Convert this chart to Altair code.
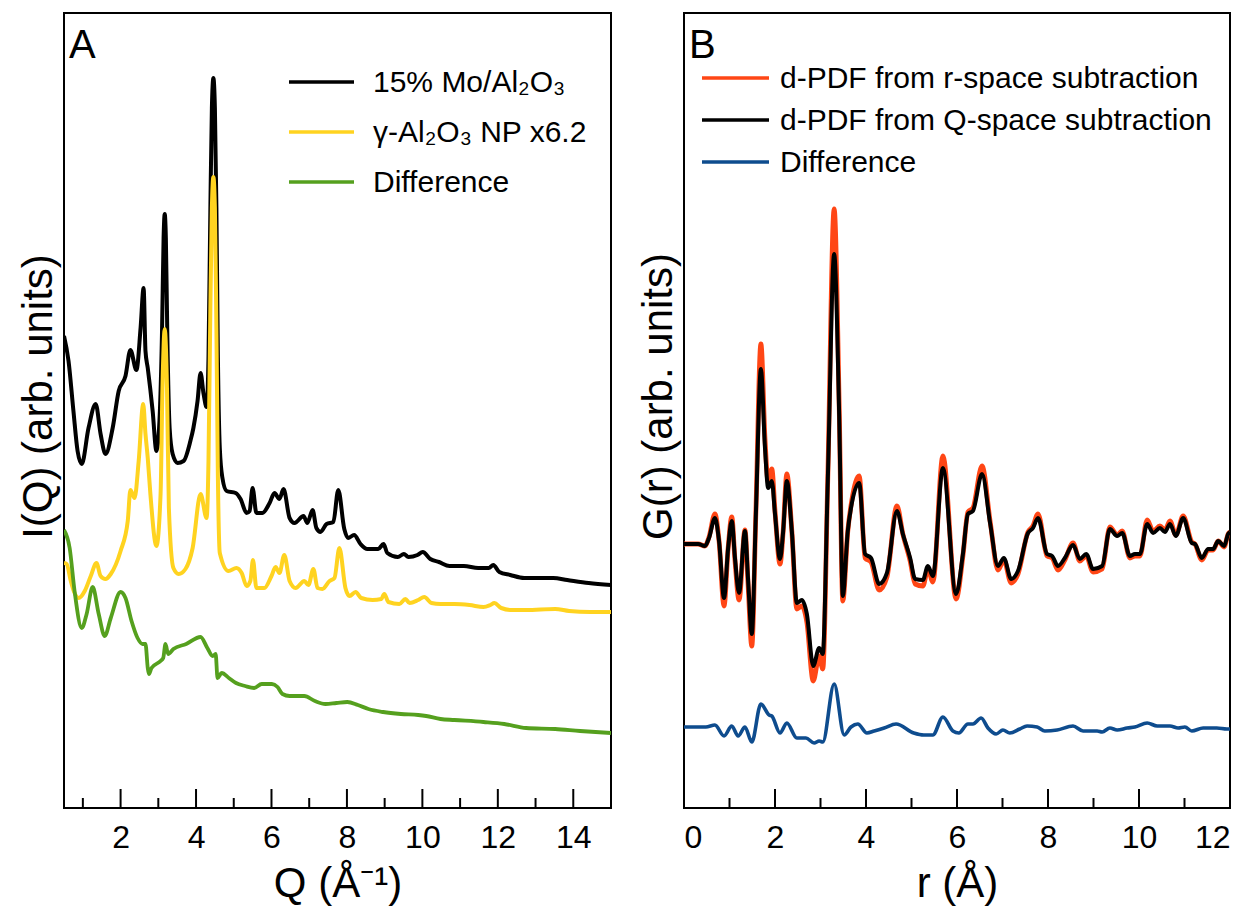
import altair as alt
import pandas as pd

FONT = "Liberation Sans"

# ---------------- Panel A data (Q in 1/Å, intensity in arb. units, offsets as plotted) ----------------
q_black = [0.50, 0.62, 0.75, 0.86, 0.97, 1.15, 1.34, 1.47, 1.60, 1.79, 1.95, 2.13, 2.26, 2.42, 2.53,
           2.61, 2.66, 2.72, 2.85, 2.95, 3.03, 3.10, 3.14, 3.17, 3.20, 3.24, 3.30, 3.38, 3.51, 3.67,
           3.85, 3.93, 4.04, 4.12, 4.20, 4.28, 4.33, 4.38, 4.42, 4.46, 4.50, 4.54, 4.58, 4.63, 4.70,
           4.81, 5.05, 5.18, 5.34, 5.42, 5.50, 5.60, 5.76, 5.95, 6.08, 6.21, 6.32, 6.48, 6.61, 6.85,
           6.95, 7.09, 7.19, 7.30, 7.46, 7.64, 7.77, 7.93, 8.03, 8.19, 8.36, 8.54, 8.83, 8.97, 9.07,
           9.35, 9.51, 9.63, 9.87, 10.01, 10.21, 10.44, 10.72, 11.10, 11.48, 11.76, 11.88, 12.04,
           12.33, 12.70, 13.09, 13.47, 13.84, 14.41, 15.00]
i_black = [472, 447, 397, 357, 344, 380, 404, 374, 354, 380, 417, 432, 458, 438, 480,
           520, 457, 440, 397, 357, 387, 480, 570, 594, 570, 470, 380, 354, 345, 347,
           367, 380, 407, 435, 414, 401, 450, 600, 700, 730, 700, 600, 450, 360, 330,
           317, 315, 309, 295, 297, 320, 295, 295, 305, 315, 309, 319, 290, 285, 292,
           285, 298, 280, 276, 284, 286, 318, 279, 270, 273, 264, 259, 259, 264, 255,
           251, 254, 251, 253, 256, 249, 246, 242, 242, 240, 240, 243, 236,
           233, 230, 230, 230, 228, 225, 223]

q_yellow = [0.50, 0.57, 0.68, 0.78, 0.89, 1.05, 1.21, 1.36, 1.47, 1.60, 1.74, 2.00, 2.19, 2.26, 2.37,
            2.48, 2.60, 2.66, 2.72, 2.79, 2.95, 3.06, 3.11, 3.17, 3.23, 3.28, 3.40, 3.54, 3.72, 3.91,
            4.12, 4.28, 4.33, 4.38, 4.42, 4.46, 4.50, 4.54, 4.58, 4.63, 4.86, 5.07, 5.21, 5.34, 5.44,
            5.51, 5.60, 5.81, 6.00, 6.11, 6.21, 6.34, 6.48, 6.64, 6.87, 6.98, 7.11, 7.22, 7.35, 7.54,
            7.67, 7.80, 7.96, 8.07, 8.23, 8.38, 8.68, 8.91, 8.99, 9.10, 9.39, 9.55, 9.66, 9.89, 10.05,
            10.24, 10.48, 10.85, 11.25, 11.62, 11.80, 11.91, 12.09, 12.38, 12.75, 13.52, 13.89, 14.45,
            15.00]
i_yellow = [245, 244, 227, 215, 210, 217, 232, 245, 232, 229, 234, 257, 287, 318, 310,
            347, 404, 374, 350, 314, 262, 314, 420, 479, 420, 300, 240, 234, 239, 260,
            314, 290, 347, 500, 600, 631, 600, 480, 330, 255, 237, 240, 235, 222, 227,
            248, 220, 220, 232, 241, 235, 253, 227, 220, 227, 223, 239, 220, 219, 227,
            230, 260, 220, 212, 216, 210, 208, 209, 214, 206, 204, 209, 205, 208, 211,
            205, 204, 204, 203, 201, 203, 205, 200, 198, 198, 199, 197, 196,
            196]

q_green = [0.50, 0.65, 0.78, 0.97, 1.10, 1.26, 1.42, 1.58, 1.74, 2.00, 2.13, 2.29, 2.45, 2.58, 2.66,
           2.72, 2.75, 2.82, 3.06, 3.13, 3.19, 3.26, 3.40, 3.74, 4.12, 4.30, 4.44, 4.52, 4.57, 4.68,
           4.87, 5.06, 5.30, 5.54, 5.74, 6.01, 6.16, 6.29, 6.48, 6.87, 7.15, 7.43, 7.72, 8.01, 8.29,
           8.57, 8.96, 9.43, 9.89, 10.10, 10.48, 10.85, 11.62, 12.17, 12.75, 13.52, 14.18, 15.00]
i_green = [278, 260, 217, 180, 194, 221, 194, 172, 190, 216, 210, 187, 170, 164, 164,
           140, 134, 140, 147, 150, 164, 154, 159, 164, 171, 160, 152, 154, 130, 135,
           130, 125, 122, 120, 124, 124, 121, 114, 112, 112, 107, 104, 105, 106, 103,
           99, 96, 94, 93, 92, 89, 88, 86, 84, 80, 79, 77, 75]

# ---------------- Panel B data (r in Å, G(r) in arb. units) ----------------
r_pdf = [0.00, 0.31, 0.46, 0.55, 0.68, 0.77, 0.88, 0.97, 1.05, 1.12, 1.21, 1.34, 1.41, 1.49, 1.58,
         1.69, 1.78, 1.85, 1.93, 2.00, 2.11, 2.18, 2.26, 2.37, 2.48, 2.59, 2.70, 2.84, 2.97, 3.05,
         3.16, 3.30, 3.41, 3.49, 3.60, 3.69, 3.85, 3.98, 4.11, 4.29, 4.46, 4.68, 4.81, 4.97, 5.08,
         5.25, 5.36, 5.47, 5.69, 5.98, 6.13, 6.24, 6.35, 6.55, 6.73, 6.90, 7.03, 7.19, 7.34, 7.56,
         7.67, 7.78, 7.98, 8.09, 8.22, 8.37, 8.55, 8.70, 8.84, 8.99, 9.19, 9.36, 9.52, 9.63, 9.80,
         9.91, 10.02, 10.18, 10.31, 10.46, 10.57, 10.68, 10.81, 10.97, 11.16, 11.23, 11.38, 11.52,
         11.63, 11.74, 11.87, 11.96, 12.00]
g_qspace = [0, 0, -2, 6, 26, 3, -54, -4, 23, -14, -49, 13, -37, -90, 30,
            175, 96, 56, 63, 30, -15, 13, 63, 13, -59, -56, -70, -122, -104, -110,
            63, 290, 130, -52, 13, 41, 61, -10, -14, -40, -29, 33, 10, -14, -35,
            -36, -22, -32, 76, -50, -10, 30, 33, 70, 20, -22, -14, -35, -27, 11,
            16, 26, -10, -12, -22, -14, -1, -15, -10, -25, -22, 15, 8, 11, -12,
            -10, -10, 20, 11, 16, 12, 20, 8, 26, 1, 0, -14, -5,
            -5, 3, -2, 10, 12]
g_rspace = [0, 0, -2, 7, 30, 3, -62, -4, 27, -16, -56, 14, -42, -102, 32,
            200, 105, 62, 75, 33, -20, 13, 70, 13, -65, -62, -78, -137, -112, -125,
            66, 335, 140, -57, 13, 44, 68, -14, -18, -46, -33, 38, 10, -17, -40,
            -42, -25, -38, 88, -55, -12, 32, 36, 78, 22, -26, -16, -39, -30, 12,
            18, 30, -12, -14, -26, -16, 1, -17, -12, -28, -25, 17, 9, 13, -14,
            -12, -12, 24, 13, 18, 14, 23, 9, 28, 2, 0, -16, -6,
            -6, 3, -3, 10, 12]

r_diff = [0.00, 0.48, 0.68, 0.88, 1.05, 1.19, 1.34, 1.49, 1.69, 1.87, 1.93, 2.11, 2.26, 2.48, 2.68,
          2.86, 2.97, 3.05, 3.30, 3.52, 3.67, 3.82, 4.02, 4.18, 4.40, 4.66, 5.05, 5.27, 5.47, 5.69,
          5.91, 6.04, 6.24, 6.35, 6.53, 6.68, 6.86, 7.01, 7.16, 7.38, 7.54, 7.76, 7.93, 8.20, 8.55,
          8.77, 9.08, 9.19, 9.36, 9.52, 9.74, 9.91, 10.18, 10.40, 10.68, 10.86, 11.01, 11.16, 11.41,
          11.71, 11.93, 12.00]
g_diff = [1, 1, 3, -8, 2, -8, 1, -14, 24, 13, 12, -5, 5, -10, -10,
          -15, -13, -14, 44, -7, 1, 4, -5, -3, 0, 4, -5, -7, -7, 11,
          -3, -5, 4, 4, 10, 0, -6, -2, -5, -1, 2, 1, -3, -2, 2,
          -3, -3, -4, 0, -2, 0, 1, 5, 2, 2, 0, 1, -3, 0,
          0, -1, -1]
diff_offset = -184  # vertical offset of the difference curve as plotted

# ticks and labels
a_major = [2, 4, 6, 8, 10, 12, 14]
a_minor = [1, 3, 5, 7, 9, 11, 13]
b_major = [0, 2, 4, 6, 8, 10, 12]
b_minor = [1, 3, 5, 7, 9, 11]

a_names = ["15% Mo/Al\u2082O\u2083", "\u03b3-Al\u2082O\u2083 NP x6.2", "Difference"]
a_colors = ["#000000", "#FFD320", "#55A01E"]
b_names = ["d-PDF from r-space subtraction", "d-PDF from Q-space subtraction", "Difference"]
b_colors = ["#FF4615", "#000000", "#0E4C8E"]

W_A, W_B, H = 547, 546, 795

# ---------------- Panel A ----------------
xa = alt.X("x:Q", scale=alt.Scale(domain=[0.5, 15], nice=False, zero=False),
           axis=alt.Axis(values=a_major, format="d", title="Q (\u00c5\u207b\u00b9)",
                         labelPadding=14, titlePadding=10))
ya = alt.Y("y:Q", scale=alt.Scale(domain=[0, 795], nice=False, zero=False),
           axis=alt.Axis(labels=False, title="I(Q) (arb. units)", titlePadding=4, titleY=383))


def curve(xs, ys, color, width, xenc, yenc):
    df = pd.DataFrame({"x": xs, "y": ys})
    return alt.Chart(df).mark_line(color=color, strokeWidth=width, interpolate="monotone",
                                   clip=True).encode(x=xenc, y=yenc)


def ticks(vals, xenc, length, h):
    df = pd.DataFrame({"x": vals})
    return alt.Chart(df).mark_rule(color="black", strokeWidth=2).encode(
        x=xenc, y=alt.value(h), y2=alt.value(h - length))


def legend(names, colors, x0, x1, xt, y0, dy, size):
    layers = []
    for i, (n, c) in enumerate(zip(names, colors)):
        yy = y0 + i * dy
        layers.append(alt.Chart(pd.DataFrame({"t": [n]})).mark_rule(color=c, strokeWidth=3.5).encode(
            x=alt.value(x0), x2=alt.value(x1), y=alt.value(yy)))
        layers.append(alt.Chart(pd.DataFrame({"t": [n]})).mark_text(
            align="left", baseline="middle", font=FONT, fontSize=size, color="black").encode(
            x=alt.value(xt), y=alt.value(yy + 1), text="t:N"))
    return layers


def letter(s):
    return alt.Chart(pd.DataFrame({"t": [s]})).mark_text(
        align="left", baseline="alphabetic", font=FONT, fontSize=40, color="black").encode(
        x=alt.value(5), y=alt.value(45), text="t:N")


xa_plain = alt.X("x:Q")
panel_a = alt.layer(
    curve(q_black, i_black, a_colors[0], 4, xa, ya),
    curve(q_yellow, i_yellow, a_colors[1], 4, xa_plain, "y:Q"),
    curve(q_green, i_green, a_colors[2], 3.8, xa_plain, "y:Q"),
    ticks(a_major, xa_plain, 19, H),
    ticks(a_minor, xa_plain, 10, H),
    *legend(a_names, a_colors, 225, 290, 309, 69, 50, 30),
    letter("A"),
).properties(width=W_A, height=H)

# ---------------- Panel B ----------------
xb = alt.X("x:Q", scale=alt.Scale(domain=[0, 12], nice=False, zero=False),
           axis=alt.Axis(values=b_major, format="d", title="r (\u00c5)",
                         labelPadding=14, titlePadding=10))
yb = alt.Y("y:Q", scale=alt.Scale(domain=[-264, 531], nice=False, zero=False),
           axis=alt.Axis(labels=False, title="G(r) (arb. units)", titlePadding=4, titleY=383))

diff_plot = [v + diff_offset for v in g_diff]
panel_b = alt.layer(
    curve(r_pdf, g_rspace, b_colors[0], 4.8, xb, yb),
    curve(r_pdf, g_qspace, b_colors[1], 4, xa_plain, "y:Q"),
    curve(r_diff, diff_plot, b_colors[2], 3.6, xa_plain, "y:Q"),
    ticks(b_major[1:-1], xa_plain, 19, H),
    ticks(b_minor, xa_plain, 10, H),
    *legend(b_names, b_colors, 18, 85, 96, 65, 42, 30),
    letter("B"),
).properties(width=W_B, height=H)

chart = alt.hconcat(panel_a, panel_b, spacing=24).properties(
    padding={"left": 8, "top": 4, "right": 5, "bottom": 5}
).configure_view(stroke="black", strokeWidth=2).configure_axis(
    labelFont=FONT, titleFont=FONT, labelFontSize=32, titleFontSize=42,
    titleFontWeight="normal", labelColor="black", titleColor="black",
    grid=False, domain=False, ticks=False, tickSize=0
)

chart.save("out.html", embed_options={"renderer": "svg", "actions": False})
